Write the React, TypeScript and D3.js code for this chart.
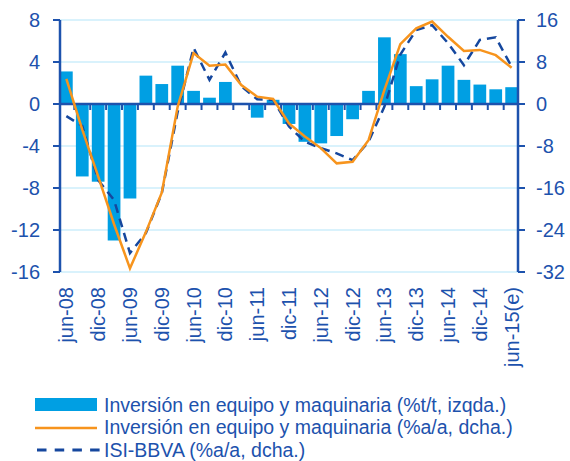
import React from 'react';
import { scaleBand, scaleLinear, line } from 'd3';

// quarters jun-08 .. jun-15
const quarters = [
  'jun-08', 'sep-08', 'dic-08', 'mar-09', 'jun-09', 'sep-09', 'dic-09', 'mar-10',
  'jun-10', 'sep-10', 'dic-10', 'mar-11', 'jun-11', 'sep-11', 'dic-11', 'mar-12',
  'jun-12', 'sep-12', 'dic-12', 'mar-13', 'jun-13', 'sep-13', 'dic-13', 'mar-14',
  'jun-14', 'sep-14', 'dic-14', 'mar-15', 'jun-15(e)'
];

// Inversión en equipo y maquinaria (%t/t, izqda.)
const invTT = [
  3.1, -6.9, -7.4, -13.0, -9.0, 2.7, 1.9, 3.65, 1.25, 0.6, 2.1, 0.1, -1.3, 0.4, -1.9,
  -3.6, -3.75, -3.05, -1.45, 1.25, 6.35, 4.75, 1.7, 2.35, 3.65, 2.3, 1.85, 1.4, 1.6
];

// Inversión en equipo y maquinaria (%a/a, dcha.)
const invAA = [
  4.8, -4.9, -13.8, -22.9, -31.3, -24.4, -16.9, -0.5, 9.7, 7.3, 7.5, 3.6, 1.4, 0.95, -3.7,
  -6.2, -8.4, -11.3, -11.0, -6.9, 2.7, 11.4, 14.4, 15.7, 12.8, 10.1, 10.3, 9.3, 6.9
];

// ISI-BBVA (%a/a, dcha.)
const isi = [
  -2.3, -4.2, -14.5, -18.3, -28.4, -24.6, -17.0, -1.5, 10.7, 4.6, 9.8, 3.4, 0.9, 0.8, -4.3,
  -7.2, -8.4, -9.4, -10.7, -7.2, -0.5, 9.4, 14.1, 15.0, 11.6, 7.4, 12.2, 12.7, 7.1
];

const leftTicks = [8, 4, 0, -4, -8, -12, -16];
const rightTicks = [16, 8, 0, -8, -16, -24, -32];
const xLabels = quarters.filter((d, i) => i % 2 === 0);

const legendItems = [
  'Inversión en equipo y maquinaria (%t/t, izqda.)',
  'Inversión en equipo y maquinaria (%a/a, dcha.)',
  'ISI-BBVA (%a/a, dcha.)'
];

const W = 570;
const H = 461;
const left = 60;
const right = 518;
const top = 20;
const bottom = 272;

const blue = '#009fe3';
const navy = '#1d52ad';
const dashNavy = '#15479e';
const orange = '#f7941d';
const grid = '#cdeefb';
const font = '"Liberation Sans", Arial, sans-serif';

export default function App() {
  const x = scaleBand().domain(quarters).range([left, right]).paddingInner(0.2).paddingOuter(0);
  const yL = scaleLinear().domain([-16, 8]).range([bottom, top]);
  const yR = scaleLinear().domain([-32, 16]).range([bottom, top]);
  const cx = (d) => x(d) + x.bandwidth() / 2;

  const lineR = line()
    .x((d, i) => cx(quarters[i]))
    .y((d) => yR(d));

  const gap = x.step() - x.bandwidth();
  const boundaries = quarters.slice(1).map((q) => x(q) - gap / 2);

  return (
    <svg width={W} height={H} style={{ position: 'absolute', left: 0, top: 0, fontFamily: font }}>
      <rect width={W} height={H} fill="#fff" />
      {/* grid */}
      {leftTicks.map((t) => (
        <line key={'g' + t} x1={left} x2={right} y1={yL(t)} y2={yL(t)} stroke={grid} strokeWidth={1.5} />
      ))}
      {/* ticks on zero line */}
      {boundaries.map((b, i) => (
        <line key={'zt' + i} x1={b} x2={b} y1={yL(0)} y2={yL(0) + 6} stroke={navy} strokeWidth={2} />
      ))}
      {/* bars */}
      {invTT.map((v, i) => (
        <rect
          key={'b' + i}
          x={x(quarters[i])}
          y={Math.min(yL(v), yL(0))}
          width={x.bandwidth()}
          height={Math.abs(yL(v) - yL(0))}
          fill={blue}
        />
      ))}
      {/* zero line */}
      <line x1={left} x2={right} y1={yL(0)} y2={yL(0)} stroke={navy} strokeWidth={2.5} />
      {/* lines */}
      <path d={lineR(isi)} fill="none" stroke={dashNavy} strokeWidth={2.5} strokeDasharray="9,6" />
      <path d={lineR(invAA)} fill="none" stroke={orange} strokeWidth={2.5} />
      {/* left axis */}
      <line x1={left} x2={left} y1={top} y2={bottom} stroke={navy} strokeWidth={2.5} />
      {leftTicks.map((t) => (
        <g key={'l' + t}>
          <line x1={left - 7} x2={left} y1={yL(t)} y2={yL(t)} stroke={navy} strokeWidth={2} />
          <text x={40} y={yL(t)} dy="0.35em" textAnchor="end" fontSize={20} fill={navy}>{t}</text>
        </g>
      ))}
      {/* right axis */}
      <line x1={right} x2={right} y1={top} y2={bottom} stroke={navy} strokeWidth={2.5} />
      {rightTicks.map((t) => (
        <g key={'r' + t}>
          <line x1={right} x2={right + 7} y1={yR(t)} y2={yR(t)} stroke={navy} strokeWidth={2} />
          <text x={536} y={yR(t)} dy="0.35em" textAnchor="start" fontSize={20} fill={navy}>{t}</text>
        </g>
      ))}
      {/* x labels */}
      {xLabels.map((q) => (
        <text
          key={'x' + q}
          transform={`translate(${cx(q)},${287}) rotate(-90)`}
          dy="0.35em"
          textAnchor="end"
          fontSize={20}
          fill={navy}
        >
          {q}
        </text>
      ))}
      {/* legend */}
      <rect x={35} y={398} width={62} height={13} fill={blue} />
      <line x1={35} x2={97} y1={428} y2={428} stroke={orange} strokeWidth={2.5} />
      <line x1={37} x2={100} y1={450} y2={450} stroke={dashNavy} strokeWidth={3} strokeDasharray="9.5,8.2" />
      {legendItems.map((t, i) => (
        <text key={t} x={104} y={405 + i * 22.5} dy="0.35em" fontSize={19.5} fill={navy}>{t}</text>
      ))}
    </svg>
  );
}
